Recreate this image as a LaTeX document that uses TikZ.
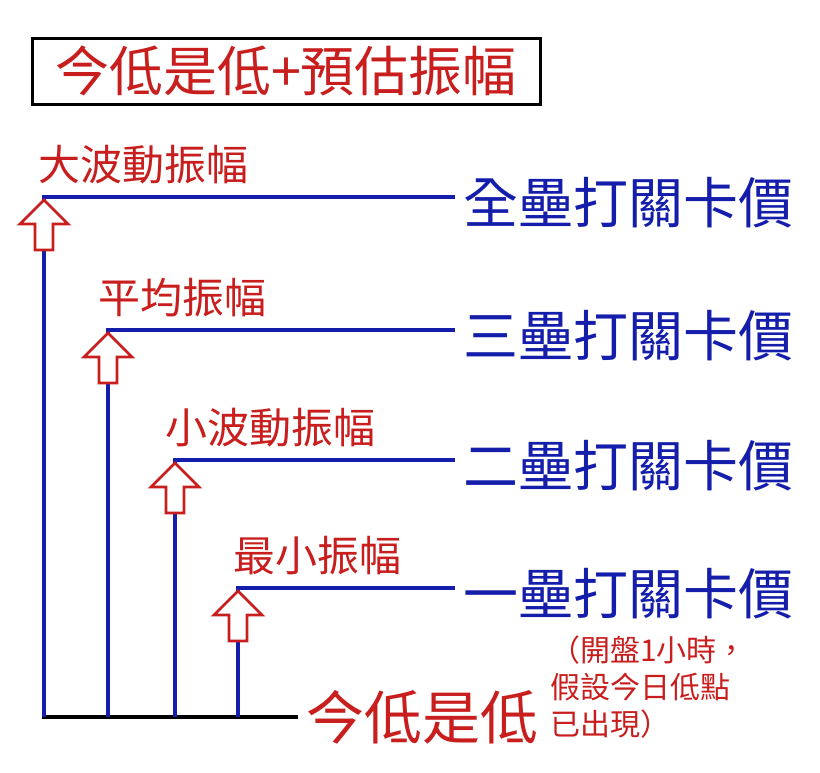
\documentclass[tikz,border=0pt]{standalone}
\usepackage{fontspec}
\newfontfamily\cjk{Noto Sans CJK TC}
\definecolor{myred}{RGB}{200,30,30}
\definecolor{myblue}{RGB}{20,30,170}
\tikzset{
  lvl/.style={draw=myblue,line width=3.2pt},
  lab/.style={font=\cjk\fontsize{55}{58}\selectfont,text=myblue,anchor=west,inner sep=0},
  amp/.style={font=\cjk\fontsize{42}{46}\selectfont,text=myred,anchor=south west,inner sep=0},
  harrow/.style={draw=myred,line width=2.8pt,fill=white,line join=miter}
}
\newcommand{\hollowarrow}[2]{%
  \draw[harrow] (#1,#2) -- (#1+24,#2+24) -- (#1+9,#2+24) -- (#1+9,#2+50) -- (#1-9,#2+50) -- (#1-9,#2+24) -- (#1-24,#2+24) -- cycle;}
\begin{document}
\begin{tikzpicture}[x=1pt,y=-1pt]
\useasboundingbox (0,0) rectangle (820,772);
\node[draw=black,line width=3pt,minimum width=508pt,minimum height=66pt,inner sep=0,
  font=\cjk\fontsize{54}{58}\selectfont,text=myred] (title) at (286,71) {今低是低+預估振幅};
\coordinate (b0) at (42,717); \coordinate (b1) at (298,717);
\draw[black,line width=3.2pt] (b0) -- (b1);
\node[font=\cjk\fontsize{58}{62}\selectfont,text=myred,anchor=west,inner sep=0] (low) at (306,717) {今低是低};
\node[align=left,anchor=north west,inner sep=0,font=\cjk\fontsize{30}{37}\selectfont,text=myred] (note) at (550,636) {（開盤1小時，\\假設今日低點\\已出現）};
% levels
\foreach \x/\y/\t/\a/\ay/\ax in {44/197/全壘打關卡價/大波動振幅/184/38, 108/330/三壘打關卡價/平均振幅/317/98, 175/460/二壘打關卡價/小波動振幅/447/165, 238/588/一壘打關卡價/最小振幅/575/233}{
  \coordinate (v\x) at (\x,717);
  \coordinate (c\x) at (\x,\y);
  \coordinate (h\x) at (455,\y);
  \draw[lvl] (v\x) -- (c\x) -- (h\x);
  \node[lab] (t\x) at (463,\y+6) {\t};
  \node[amp] (a\x) at (\ax,\ay) {\a};
  \hollowarrow{\x}{\y+3}
}
\end{tikzpicture}
\end{document}
